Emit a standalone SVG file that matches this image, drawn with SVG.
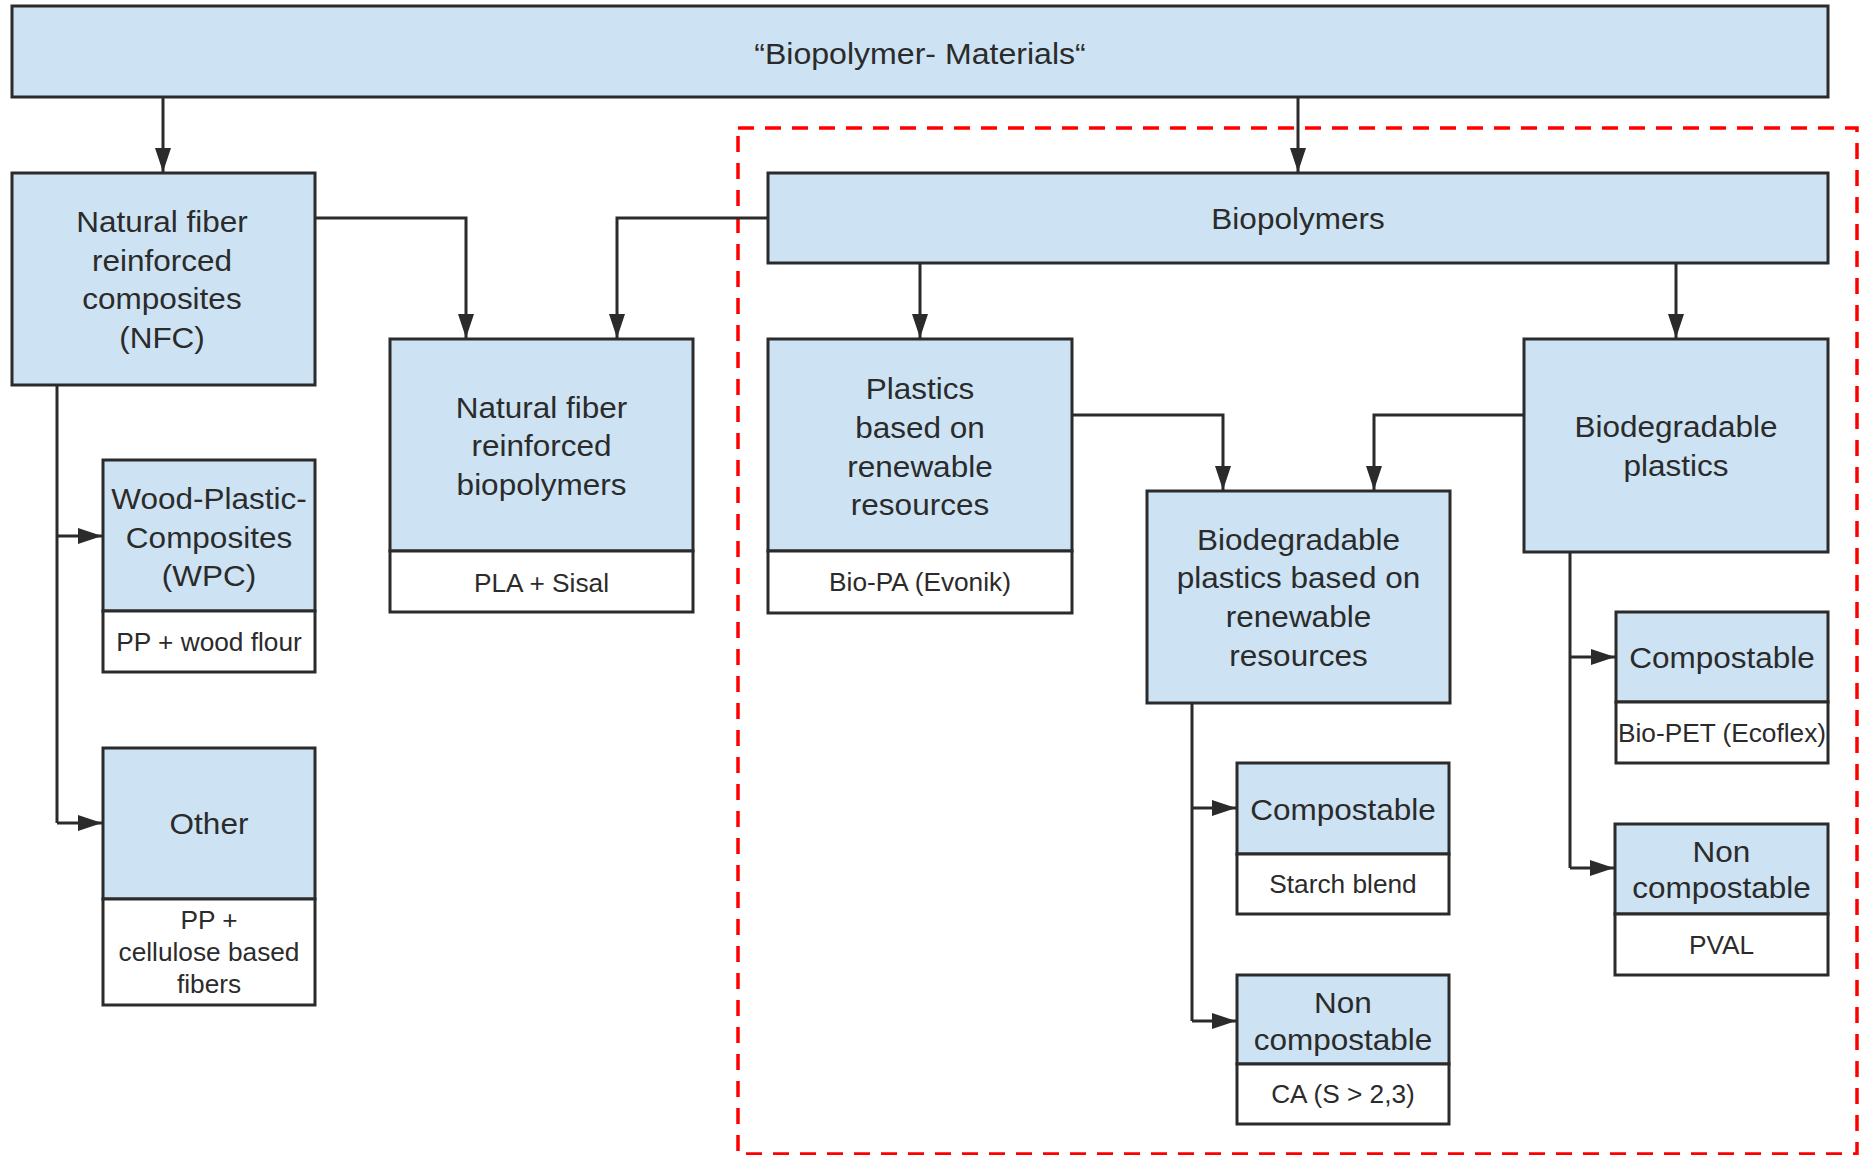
<svg xmlns="http://www.w3.org/2000/svg" width="1861" height="1155" viewBox="0 0 1861 1155">
<defs>
<marker id="ah" markerUnits="userSpaceOnUse" markerWidth="24" markerHeight="16" refX="24" refY="8" orient="auto">
<path d="M0,0 L24,8 L0,16 Z" fill="#2b2b2b"/>
</marker>
<style>
.b{fill:#cde3f3;stroke:#2b2b2b;stroke-width:3}
.w{fill:#ffffff;stroke:#2b2b2b;stroke-width:3}
.t{font-family:"Liberation Sans",Arial,sans-serif;fill:#2b2b2b;text-anchor:middle;font-size:30px}
.s{font-family:"Liberation Sans",Arial,sans-serif;fill:#2b2b2b;text-anchor:middle;font-size:25px}
.c{fill:none;stroke:#2b2b2b;stroke-width:3}
.a{marker-end:url(#ah)}
</style>
</defs>
<rect width="1861" height="1155" fill="#ffffff"/>
<rect x="738" y="128" width="1119" height="1026" fill="none" stroke="#ff0000" stroke-width="3.5" stroke-dasharray="16 11"/>

<g id="connectors">
<path class="c a" d="M163,97 V172"/>
<path class="c a" d="M1298,97 V172"/>
<path class="c a" d="M315,218 H466 V338"/>
<path class="c a" d="M768,218 H617 V338"/>
<path class="c" d="M57,385 V823"/>
<path class="c a" d="M57,536 H102"/>
<path class="c a" d="M57,823 H102"/>
<path class="c a" d="M920,263 V338"/>
<path class="c a" d="M1676,263 V338"/>
<path class="c a" d="M1072,415 H1223 V490"/>
<path class="c a" d="M1524,415 H1374 V490"/>
<path class="c" d="M1192,703 V1021"/>
<path class="c a" d="M1192,808 H1236"/>
<path class="c a" d="M1192,1021 H1236"/>
<path class="c" d="M1570,552 V868"/>
<path class="c a" d="M1570,657 H1615"/>
<path class="c a" d="M1570,868 H1614"/>
</g>

<g id="title">
<rect class="b" x="12" y="6" width="1816" height="91"/>
<text class="t" transform="matrix(1.07,0,0,1,920,0)"><tspan x="0" y="64">“Biopolymer- Materials“</tspan></text>
</g>

<g id="nfc">
<rect class="b" x="12" y="173" width="303" height="212"/>
<text class="t" transform="matrix(1.05,0,0,1,162,0)"><tspan x="0" y="232">Natural fiber</tspan><tspan x="0" y="271">reinforced</tspan><tspan x="0" y="309">composites</tspan><tspan x="0" y="348">(NFC)</tspan></text>
</g>

<g id="wpc">
<rect class="b" x="103" y="460" width="212" height="151"/>
<rect class="w" x="103" y="611" width="212" height="61"/>
<text class="t" transform="matrix(1.05,0,0,1,209,0)"><tspan x="0" y="509">Wood-Plastic-</tspan><tspan x="0" y="548">Composites</tspan><tspan x="0" y="586">(WPC)</tspan></text>
<text class="s" transform="matrix(1.05,0,0,1,209,0)"><tspan x="0" y="651">PP + wood flour</tspan></text>
</g>

<g id="other">
<rect class="b" x="103" y="748" width="212" height="151"/>
<rect class="w" x="103" y="899" width="212" height="106"/>
<text class="t" transform="matrix(1.05,0,0,1,209,0)"><tspan x="0" y="834">Other</tspan></text>
<text class="s" transform="matrix(1.05,0,0,1,209,0)"><tspan x="0" y="929">PP +</tspan><tspan x="0" y="961">cellulose based</tspan><tspan x="0" y="993">fibers</tspan></text>
</g>

<g id="nfb">
<rect class="b" x="390" y="339" width="303" height="212"/>
<rect class="w" x="390" y="551" width="303" height="61"/>
<text class="t" transform="matrix(1.05,0,0,1,541.5,0)"><tspan x="0" y="418">Natural fiber</tspan><tspan x="0" y="456">reinforced</tspan><tspan x="0" y="495">biopolymers</tspan></text>
<text class="s" transform="matrix(1.05,0,0,1,541.5,0)"><tspan x="0" y="592">PLA + Sisal</tspan></text>
</g>

<g id="biopolymers">
<rect class="b" x="768" y="173" width="1060" height="90"/>
<text class="t" transform="matrix(1.05,0,0,1,1298,0)"><tspan x="0" y="229">Biopolymers</tspan></text>
</g>

<g id="plastics-renewable">
<rect class="b" x="768" y="339" width="304" height="212"/>
<rect class="w" x="768" y="551" width="304" height="62"/>
<text class="t" transform="matrix(1.05,0,0,1,920,0)"><tspan x="0" y="399">Plastics</tspan><tspan x="0" y="438">based on</tspan><tspan x="0" y="477">renewable</tspan><tspan x="0" y="515">resources</tspan></text>
<text class="s" transform="matrix(1.05,0,0,1,920,0)"><tspan x="0" y="591">Bio-PA (Evonik)</tspan></text>
</g>

<g id="bio-renewable">
<rect class="b" x="1147" y="491" width="303" height="212"/>
<text class="t" transform="matrix(1.05,0,0,1,1298.5,0)"><tspan x="0" y="550">Biodegradable</tspan><tspan x="0" y="588">plastics based on</tspan><tspan x="0" y="627">renewable</tspan><tspan x="0" y="666">resources</tspan></text>
</g>

<g id="biodegradable">
<rect class="b" x="1524" y="339" width="304" height="213"/>
<text class="t" transform="matrix(1.05,0,0,1,1676,0)"><tspan x="0" y="437">Biodegradable</tspan><tspan x="0" y="476">plastics</tspan></text>
</g>

<g id="compostable-1">
<rect class="b" x="1237" y="763" width="212" height="91"/>
<rect class="w" x="1237" y="854" width="212" height="60"/>
<text class="t" transform="matrix(1.05,0,0,1,1343,0)"><tspan x="0" y="820">Compostable</tspan></text>
<text class="s" transform="matrix(1.05,0,0,1,1343,0)"><tspan x="0" y="893">Starch blend</tspan></text>
</g>

<g id="noncompostable-1">
<rect class="b" x="1237" y="975" width="212" height="89"/>
<rect class="w" x="1237" y="1064" width="212" height="60"/>
<text class="t" transform="matrix(1.05,0,0,1,1343,0)"><tspan x="0" y="1013">Non</tspan><tspan x="0" y="1050">compostable</tspan></text>
<text class="s" transform="matrix(1.05,0,0,1,1343,0)"><tspan x="0" y="1103">CA (S &gt; 2,3)</tspan></text>
</g>

<g id="compostable-2">
<rect class="b" x="1616" y="612" width="212" height="90"/>
<rect class="w" x="1616" y="702" width="212" height="61"/>
<text class="t" transform="matrix(1.05,0,0,1,1722,0)"><tspan x="0" y="668">Compostable</tspan></text>
<text class="s" transform="matrix(1.05,0,0,1,1722,0)"><tspan x="0" y="742">Bio-PET (Ecoflex)</tspan></text>
</g>

<g id="noncompostable-2">
<rect class="b" x="1615" y="824" width="213" height="90"/>
<rect class="w" x="1615" y="914" width="213" height="61"/>
<text class="t" transform="matrix(1.05,0,0,1,1721.5,0)"><tspan x="0" y="862">Non</tspan><tspan x="0" y="898">compostable</tspan></text>
<text class="s" transform="matrix(1.05,0,0,1,1721.5,0)"><tspan x="0" y="954">PVAL</tspan></text>
</g>
</svg>
